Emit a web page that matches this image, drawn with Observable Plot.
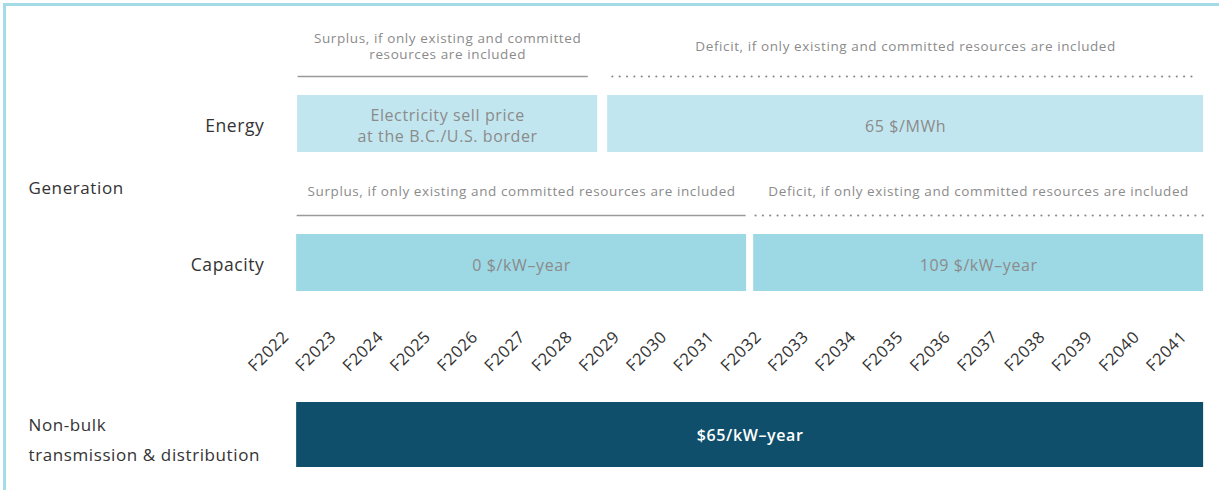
<!DOCTYPE html>
<html><head><meta charset="utf-8">
<script src="https://cdn.jsdelivr.net/npm/d3@7"></script>
<script src="https://cdn.jsdelivr.net/npm/@observablehq/plot@0.6"></script>
<style>
body{margin:0;background:#fff;font-family:'Open Sans',sans-serif}
#frame{position:relative;width:1219px;height:490px;overflow:hidden;background:#fff}
#frame .bt{position:absolute;left:3px;top:3px;right:0;height:3px;background:#a3dbe7}
#frame .bl{position:absolute;left:3px;top:3px;bottom:0;width:3px;background:#a3dbe7}
.sec{position:absolute;left:0}
.sec svg{display:block;overflow:visible}
.sec svg text{letter-spacing:0.6px}
.sec svg g[aria-label="row label"] text{letter-spacing:0.9px}
.sec svg g[aria-label="tick labels"] text{letter-spacing:1.3px}
</style></head><body>
<div id="frame"><div class="bt"></div><div class="bl"></div></div>
<script>
// ---- data ----
const tickYears = [2022,2023,2024,2025,2026,2027,2028,2029,2030,2031,2032,2033,2034,2035,2036,2037,2038,2039,2040,2041];
const tickLabels = ["F2022","F2023","F2024","F2025","F2026","F2027","F2028","F2029","F2030","F2031","F2032","F2033","F2034","F2035","F2036","F2037","F2038","F2039","F2040","F2041"];

const groupLabel = "Generation";
const rowLabels = ["Energy", "Capacity", "Non-bulk\ntransmission & distribution"];

const periodStatus = ["Surplus", "Deficit"];
// period extents (fiscal-year units)
const energyStart = [2022.15, 2028.71];
const energyEnd   = [2028.50, 2041.32];
const energyNoteStart = [2022.15, 2028.81];
const energyNoteEnd   = [2028.29, 2041.15];
const energyValue = ["Electricity sell price\nat the B.C./U.S. border", "65 $/MWh"];
const energyNote  = ["Surplus, if only existing and committed\nresources are included",
                     "Deficit, if only existing and committed resources are included"];

const capacityStart = [2022.13, 2031.80];
const capacityEnd   = [2031.65, 2041.32];
const capacityNoteStart = [2022.13, 2031.84];
const capacityNoteEnd   = [2031.63, 2041.32];
const capacityValue = ["0 $/kW\u2013year", "109 $/kW\u2013year"];
const capacityNote  = ["Surplus, if only existing and committed resources are included",
                       "Deficit, if only existing and committed resources are included"];

const tdStart = [2022.13];
const tdEnd   = [2041.32];
const tdValue = ["$65/kW\u2013year"];

// ---- build tables ----
const build = (row, st, en, ns, ne, val, note) => periodStatus.slice(0, st.length).map((s, i) => ({
  row, status: s, start: st[i], end: en[i], noteStart: ns ? ns[i] : null, noteEnd: ne ? ne[i] : null,
  value: val[i], note: note ? note[i] : null
}));
const energy = build(rowLabels[0], energyStart, energyEnd, energyNoteStart, energyNoteEnd, energyValue, energyNote);
const capacity = build(rowLabels[1], capacityStart, capacityEnd, capacityNoteStart, capacityNoteEnd, capacityValue, capacityNote);
const td = tdStart.map((s, i) => ({row: rowLabels[2], start: s, end: tdEnd[i], value: tdValue[i]}));

// ---- styles ----
const FONT = "'Open Sans', Lato, sans-serif";
const GREY = "#8b8b8b";
const DARK = "#333333";
const xScale = {type: "linear", domain: [2022, 2041], range: [290, 1188]};
const W = 1219;

function section(top, height, marginTop, marginBottom, row, marks) {
  const p = Plot.plot({
    width: W, height, marginLeft: 0, marginRight: 0, marginTop, marginBottom,
    style: {fontFamily: FONT, background: "transparent", overflow: "visible"},
    x: {...xScale, axis: null},
    y: {type: "band", domain: [row], padding: 0, axis: null},
    marks
  });
  const d = document.createElement("div");
  d.className = "sec";
  d.style.top = top + "px";
  d.appendChild(p);
  document.getElementById("frame").appendChild(d);
}

function noteMarks(data, textDy, lineDy, fill) {
  return [
    Plot.text(data, {x: d => (d.start + d.end) / 2, y: "row", text: "note", fill: GREY,
      fontSize: 13.5, lineHeight: 1.15, dy: textDy, ariaLabel: "note"}),
    Plot.link(data.filter(d => d.status === "Surplus"), {x1: "noteStart", x2: "noteEnd", y1: "row", y2: "row",
      stroke: "#9a9a9a", strokeWidth: 1.5, dy: lineDy}),
    Plot.link(data.filter(d => d.status === "Deficit"), {x1: "noteStart", x2: "noteEnd", y1: "row", y2: "row",
      stroke: "#8a8a8a", strokeWidth: 2.2, strokeDasharray: "0,7.33", strokeLinecap: "round", dy: lineDy}),
    Plot.barX(data, {x1: "start", x2: "end", y: "row", fill}),
    Plot.text(data, {x: d => (d.start + d.end) / 2, y: "row", text: "value", fill: GREY,
      fontSize: 16, lineHeight: 1.3, dy: 1, ariaLabel: "value"}),
    Plot.text([data[0].row], {y: d => d, text: d => d, frameAnchor: "left", textAnchor: "end",
      dx: 264, dy: 2, fill: DARK, fontSize: 17.5, ariaLabel: "row label"})
  ];
}

// Energy
section(0, 160, 95, 8, rowLabels[0], noteMarks(energy, -78, -47.5, "#c2e6ef"));

// Capacity (+ Generation group label)
section(160, 140, 74, 9, rowLabels[1], [
  ...noteMarks(capacity, -71.5, -47.5, "#9dd8e5"),
  Plot.text([groupLabel], {y: () => rowLabels[1], text: d => d, frameAnchor: "left", textAnchor: "start",
    dx: 28, dy: -74, fill: DARK, fontSize: 17, ariaLabel: "group label"})
]);

// Ticks + non-bulk T&D
section(300, 190, 102, 23, rowLabels[2], [
  Plot.text(tickYears, {x: d => d, text: (d, i) => tickLabels[i], frameAnchor: "top", rotate: -45,
    textAnchor: "end", dx: -9, dy: -73, fill: DARK, fontSize: 16.5, ariaLabel: "tick labels"}),
  Plot.barX(td, {x1: "start", x2: "end", y: "row", fill: "#0f4f6b"}),
  Plot.text(td, {x: d => (d.start + d.end) / 2, y: "row", text: "value", fill: "#ffffff",
    fontSize: 16, fontWeight: 600, dy: 1, ariaLabel: "td value"}),
  Plot.text([rowLabels[2]], {y: d => d, text: d => d, frameAnchor: "left", textAnchor: "start",
    dx: 28, dy: 1.5, fill: DARK, fontSize: 17, lineHeight: 1.75, ariaLabel: "td label"})
]);
</script>
</body></html>
